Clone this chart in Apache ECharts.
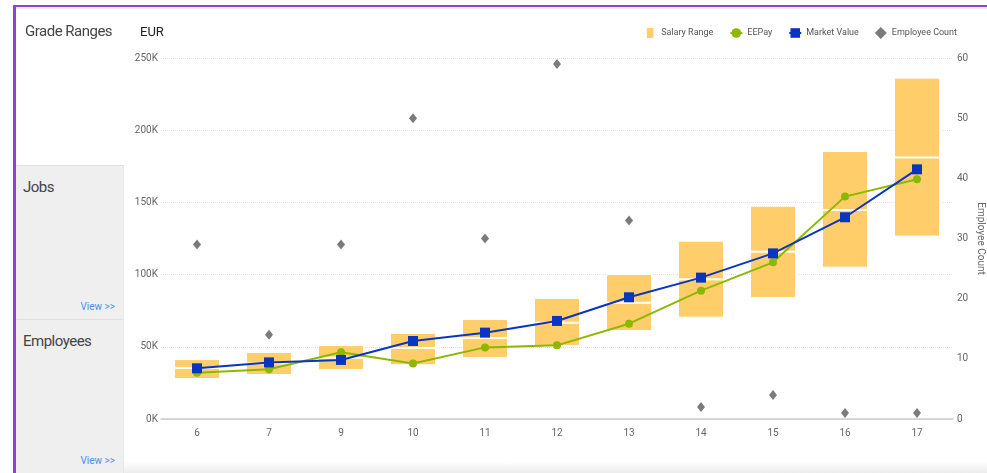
<!DOCTYPE html>
<html>
<head>
<meta charset="utf-8">
<script src="https://cdn.jsdelivr.net/npm/echarts@6/dist/echarts.min.js"></script>
<style>
  body { margin: 0; width: 987px; height: 473px; overflow: hidden; background: #fff; font-family: Roboto, sans-serif; position: relative; }
  #chart { position: absolute; left: 0; top: 0; width: 987px; height: 473px; }
  .border-top { position: absolute; left: 13px; top: 5px; width: 974px; height: 2px; background: #8e44cc; }
  .border-top-shade { position: absolute; left: 13px; top: 7px; width: 974px; height: 2px; background: #eee; }
  .border-left { position: absolute; left: 13px; top: 5px; width: 3px; height: 468px; background: #8e44cc; }
  .panel { position: absolute; left: 16px; width: 108px; background: #efefef; border-top: 1px solid #e2e2e2; border-right: 1px solid #e6e6e6; box-sizing: border-box; }
  .panel .title { position: absolute; left: 7px; top: 12px; font-size: 15px; color: #444; letter-spacing: -0.5px; }
  .panel .view { position: absolute; right: 8px; bottom: 7px; font-size: 10px; color: #4a8ef0; }
  .heading { position: absolute; left: 25px; top: 22px; font-size: 15px; color: #444; letter-spacing: -0.5px; }
  .shadow { position: absolute; left: 124px; top: 462px; width: 863px; height: 11px; background: linear-gradient(#fff, #ececec); }
</style>
</head>
<body>
<div class="shadow"></div>
<div id="chart"></div>
<div class="border-top-shade"></div>
<div class="border-top"></div>
<div class="border-left"></div>
<div class="heading">Grade Ranges</div>
<div class="panel" style="top:165px;height:154px;"><div class="title">Jobs</div><div class="view">View &gt;&gt;</div></div>
<div class="panel" style="top:319px;height:154px;"><div class="title">Employees</div><div class="view">View &gt;&gt;</div></div>
<script>
// grades on the x axis
const grades = ['6', '7', '9', '10', '11', '12', '13', '14', '15', '16', '17'];

// salary range per grade (EUR)
const rangeMin = [27700, 30500, 33900, 37200, 42200, 50600, 60900, 70200, 83800, 104800, 126300];
const rangeMid = [35300, 38500, 42500, 49200, 56000, 66700, 80500, 96700, 115900, 144700, 181100];
const rangeMax = [41500, 46400, 51200, 59700, 69300, 83800, 100400, 123500, 147700, 185600, 236400];

const eePay = [32000, 34500, 46200, 38500, 49600, 51000, 66000, 88900, 108500, 154000, 166000];
const marketValue = [35100, 39200, 40900, 54000, 59800, 67900, 84300, 97900, 114700, 139700, 172900];
const employeeCount = [29, 14, 29, 50, 30, 59, 33, 2, 4, 1, 1];

const lowerPart = rangeMid.map((v, i) => v - rangeMin[i]);
const upperPart = rangeMax.map((v, i) => v - rangeMid[i]);

const chart = echarts.init(document.getElementById('chart'));

const axisText = { color: '#666', fontSize: 10, fontFamily: 'Roboto' };
const boxColor = '#ffcd69';

const option = {
    animation: false,
    title: {
        text: 'EUR',
        left: 135,
        top: 21,
        textStyle: { fontSize: 13, fontWeight: 'normal', color: '#222', fontFamily: 'Roboto' }
    },
    legend: {
        right: 25,
        top: 21,
        itemWidth: 12,
        itemHeight: 12,
        itemGap: 16,
        textStyle: { color: '#555', fontSize: 9, fontFamily: 'Roboto' },
        data: [
            { name: 'Salary Range', icon: 'path://M0,0L10,0L10,14L0,14Z', itemStyle: { color: boxColor } },
            { name: 'EEPay' },
            { name: 'Market Value' },
            { name: 'Employee Count', icon: 'diamond' }
        ]
    },
    grid: { left: 161, right: 34, top: 58, bottom: 54, outerBoundsMode: 'none' },
    xAxis: {
        type: 'category',
        data: grades,
        axisLine: { lineStyle: { color: '#ccc', width: 1.5 } },
        axisTick: { show: false },
        axisLabel: Object.assign({ margin: 9 }, axisText)
    },
    yAxis: [
        {
            type: 'value',
            min: 0,
            max: 250000,
            interval: 50000,
            axisLine: { show: false },
            axisTick: { show: false },
            axisLabel: Object.assign({
                margin: 3,
                formatter: v => (v / 1000) + 'K'
            }, axisText),
            splitLine: { lineStyle: { color: '#e2e2e2', type: 'dotted' } }
        },
        {
            type: 'value',
            min: 0,
            max: 60,
            interval: 10,
            name: 'Employee Count',
            nameLocation: 'middle',
            nameRotate: -90,
            nameGap: 22,
            nameMoveOverlap: false,
            nameTextStyle: { color: '#666', fontSize: 10, fontFamily: 'Roboto' },
            axisLine: { show: false },
            axisTick: { show: false },
            axisLabel: Object.assign({ margin: 4 }, axisText),
            splitLine: { show: false }
        }
    ],
    series: [
        {
            name: 'base',
            type: 'bar',
            stack: 'range',
            barWidth: 46,
            data: rangeMin,
            itemStyle: { color: 'transparent' },
            silent: true
        },
        {
            name: 'Salary Range',
            type: 'bar',
            stack: 'range',
            data: lowerPart,
            itemStyle: { color: boxColor, borderColor: '#fff', borderWidth: 1 }
        },
        {
            name: 'Salary Range',
            type: 'bar',
            stack: 'range',
            data: upperPart,
            itemStyle: { color: boxColor, borderColor: '#fff', borderWidth: 1 }
        },
        {
            name: 'EEPay',
            type: 'line',
            data: eePay,
            symbol: 'circle',
            symbolSize: 8,
            lineStyle: { color: '#8cb800', width: 2 },
            itemStyle: { color: '#8cb800' },
            z: 3
        },
        {
            name: 'Market Value',
            type: 'line',
            data: marketValue,
            symbol: 'rect',
            symbolSize: 10,
            lineStyle: { color: '#0a35c0', width: 2 },
            itemStyle: { color: '#0a35c0' },
            z: 4
        },
        {
            name: 'Employee Count',
            type: 'scatter',
            yAxisIndex: 1,
            data: employeeCount,
            symbol: 'diamond',
            symbolSize: [8, 10],
            itemStyle: { color: '#5a5a5a' },
            z: 5
        }
    ]
};

chart.setOption(option);
</script>
</body>
</html>
